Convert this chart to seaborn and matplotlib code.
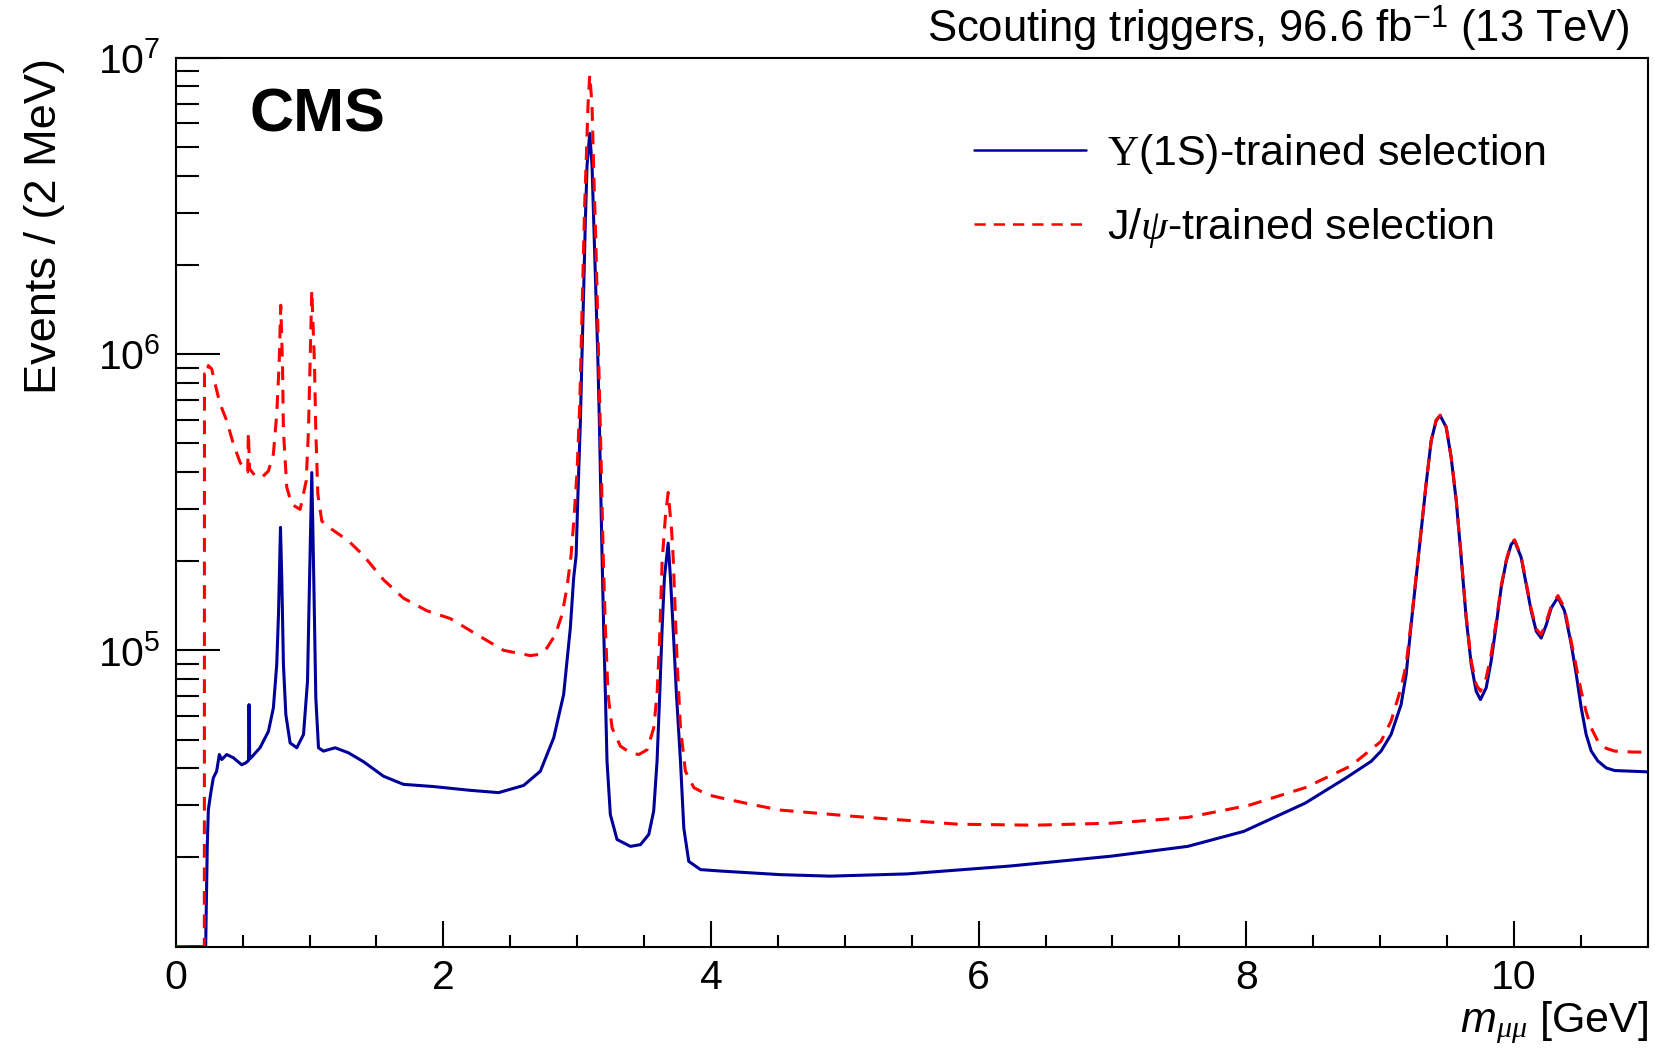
import matplotlib
matplotlib.use("Agg")
import matplotlib.pyplot as plt
import seaborn as sns
import pandas as pd
from matplotlib.lines import Line2D
from matplotlib.ticker import FixedLocator, LogLocator, LogFormatterSciNotation, MultipleLocator, NullFormatter

# ---------------- data ----------------
mass_upsilon_sel = [0.0, 0.224, 0.236, 0.244, 0.262, 0.281, 0.306, 0.326, 0.344, 0.381, 0.431,
                    0.493, 0.523, 0.544, 0.548, 0.553, 0.563, 0.630, 0.693, 0.730, 0.755, 0.768,
                    0.783, 0.793, 0.805, 0.823, 0.855, 0.905, 0.955, 0.985, 1.000, 1.017, 1.032,
                    1.047, 1.067, 1.104, 1.192, 1.291, 1.403, 1.553, 1.702, 1.927, 2.200, 2.413,
                    2.600, 2.725, 2.825, 2.899, 2.949, 2.974, 2.992, 3.007, 3.024, 3.036, 3.049,
                    3.061, 3.074, 3.094, 3.111, 3.124, 3.139, 3.154, 3.166, 3.176, 3.186, 3.198,
                    3.211, 3.223, 3.248, 3.298, 3.398, 3.473, 3.535, 3.572, 3.597, 3.617, 3.635,
                    3.652, 3.680, 3.697, 3.717, 3.742, 3.772, 3.797, 3.834, 3.922, 4.071, 4.520,
                    4.890, 5.463, 6.226, 6.990, 7.562, 7.982, 8.440, 8.745, 8.933, 9.007, 9.082,
                    9.157, 9.195, 9.232, 9.270, 9.307, 9.344, 9.382, 9.419, 9.449, 9.494, 9.531,
                    9.569, 9.606, 9.643, 9.681, 9.718, 9.750, 9.793, 9.830, 9.868, 9.905, 9.943,
                    9.980, 10.005, 10.054, 10.092, 10.129, 10.167, 10.204, 10.242, 10.279, 10.329,
                    10.378, 10.428, 10.466, 10.503, 10.540, 10.578, 10.628, 10.690, 10.753,
                    10.878, 11.0]
events_upsilon_sel = [1.0e4, 1.0e4, 2.2e4, 2.9e4, 3.3e4, 3.71e4, 3.91e4, 4.45e4, 4.28e4, 4.45e4, 4.34e4,
                      4.11e4, 4.17e4, 4.25e4, 6.56e4, 4.3e4, 4.34e4, 4.69e4, 5.33e4, 6.4e4, 8.96e4, 1.32e5,
                      2.6e5, 1.72e5, 8.96e4, 6.07e4, 4.87e4, 4.69e4, 5.2e4, 7.87e4, 1.72e5, 3.98e5, 1.72e5,
                      6.92e4, 4.69e4, 4.57e4, 4.69e4, 4.51e4, 4.21e4, 3.76e4, 3.53e4, 3.47e4, 3.37e4, 3.31e4,
                      3.5e4, 3.91e4, 5.07e4, 7.1e4, 1.19e5, 1.76e5, 2.08e5, 3.5e5, 5.89e5, 9.88e5, 1.66e6,
                      2.79e6, 4.34e6, 5.55e6, 4.34e6, 2.79e6, 1.66e6, 9.88e5, 5.89e5, 3.5e5, 2.08e5, 1.19e5,
                      7.1e4, 4.23e4, 2.79e4, 2.3e4, 2.18e4, 2.21e4, 2.39e4, 2.87e4, 4.23e4, 7.1e4, 1.19e5,
                      1.76e5, 2.3e5, 1.76e5, 1.19e5, 7.1e4, 4.23e4, 2.51e4, 1.94e4, 1.82e4, 1.8e4, 1.75e4,
                      1.73e4, 1.76e4, 1.87e4, 2.02e4, 2.18e4, 2.45e4, 3.05e4, 3.71e4, 4.22e4, 4.57e4, 5.2e4,
                      6.56e4, 8.3e4, 1.22e5, 1.76e5, 2.53e5, 3.64e5, 5.1e5, 5.96e5, 6.2e5, 5.66e5, 4.48e5,
                      3.2e5, 2.06e5, 1.29e5, 8.97e4, 7.28e4, 6.82e4, 7.48e4, 9.2e4, 1.22e5, 1.63e5, 2.0e5,
                      2.28e5, 2.34e5, 2.06e5, 1.67e5, 1.36e5, 1.16e5, 1.1e5, 1.22e5, 1.39e5, 1.51e5,
                      1.36e5, 1.05e5, 8.3e4, 6.4e4, 5.2e4, 4.57e4, 4.23e4, 4.01e4, 3.93e4,
                      3.91e4, 3.89e4]

mass_jpsi_sel = [0.0, 0.214, 0.215, 0.232, 0.244, 0.269, 0.294, 0.331, 0.381, 0.431, 0.481,
                 0.518, 0.538, 0.543, 0.552, 0.593, 0.643, 0.693, 0.730, 0.755, 0.773, 0.785,
                 0.798, 0.805, 0.830, 0.867, 0.930, 0.975, 0.992, 1.004, 1.017, 1.037, 1.047,
                 1.062, 1.092, 1.167, 1.291, 1.403, 1.553, 1.702, 1.877, 2.052, 2.251, 2.450,
                 2.650, 2.725, 2.775, 2.837, 2.887, 2.924, 2.954, 2.974, 2.999, 3.019, 3.031,
                 3.044, 3.056, 3.069, 3.081, 3.094, 3.111, 3.124, 3.139, 3.154, 3.169, 3.181,
                 3.195, 3.211, 3.231, 3.261, 3.323, 3.398, 3.460, 3.523, 3.572, 3.597, 3.615,
                 3.627, 3.635, 3.660, 3.680, 3.705, 3.717, 3.747, 3.772, 3.809, 3.872, 3.971,
                 4.071, 4.319, 4.520, 5.080, 5.844, 6.417, 6.990, 7.562, 8.020, 8.440, 8.780,
                 9.007, 9.082, 9.157, 9.195, 9.232, 9.270, 9.307, 9.344, 9.382, 9.419, 9.449,
                 9.494, 9.531, 9.569, 9.606, 9.643, 9.681, 9.718, 9.750, 9.793, 9.830, 9.868,
                 9.905, 9.943, 9.980, 10.005, 10.054, 10.092, 10.129, 10.167, 10.204, 10.242,
                 10.279, 10.329, 10.378, 10.428, 10.466, 10.503, 10.540, 10.578, 10.628,
                 10.690, 10.753, 10.878, 11.0]
events_jpsi_sel = [1.0e4, 1.0e4, 8.57e5, 8.45e5, 9.14e5, 8.9e5, 7.94e5, 6.8e5, 5.96e5, 4.97e5, 4.31e5,
                   4.03e5, 4.0e5, 5.44e5, 4.1e5, 3.88e5, 3.83e5, 4.03e5, 4.6e5, 6.28e5, 9.27e5, 1.46e6,
                   9.27e5, 5.51e5, 3.55e5, 3.11e5, 2.99e5, 3.73e5, 5.51e5, 9.27e5, 1.64e6, 9.27e5, 5.51e5,
                   3.37e5, 2.73e5, 2.56e5, 2.34e5, 2.09e5, 1.73e5, 1.5e5, 1.36e5, 1.28e5, 1.13e5, 1.0e5,
                   9.6e4, 9.7e4, 1.02e5, 1.13e5, 1.32e5, 1.63e5, 2.08e5, 2.7e5, 3.99e5, 6.7e5, 1.12e6,
                   1.89e6, 3.18e6, 4.69e6, 6.9e6, 8.75e6, 6.9e6, 4.12e6, 2.45e6, 1.28e6, 6.7e5, 3.99e5,
                   2.05e5, 1.19e5, 7.1e4, 5.47e4, 4.75e4, 4.51e4, 4.45e4, 4.62e4, 5.47e4, 7.1e4, 1.05e5,
                   1.55e5, 2.0e5, 2.85e5, 3.41e5, 2.57e5, 2.08e5, 9.2e4, 5.47e4, 3.91e4, 3.44e4, 3.26e4,
                   3.18e4, 3.01e4, 2.89e4, 2.75e4, 2.59e4, 2.57e4, 2.61e4, 2.73e4, 3.0e4, 3.44e4, 4.07e4,
                   4.93e4, 5.77e4, 7.48e4, 8.97e4, 1.24e5, 1.78e5, 2.55e5, 3.66e5, 5.1e5, 5.98e5, 6.22e5,
                   5.68e5, 4.5e5, 3.22e5, 2.08e5, 1.31e5, 9.2e4, 7.67e4, 7.28e4, 8.08e4, 9.7e4, 1.25e5,
                   1.65e5, 2.02e5, 2.3e5, 2.36e5, 2.08e5, 1.69e5, 1.38e5, 1.18e5, 1.13e5, 1.25e5,
                   1.41e5, 1.53e5, 1.39e5, 1.07e5, 8.8e4, 7.28e4, 6.2e4, 5.47e4, 4.93e4,
                   4.67e4, 4.57e4, 4.54e4, 4.53e4]

x_major_ticks = [0, 2, 4, 6, 8, 10]
y_major_ticks = [1e5, 1e6, 1e7]

label_upsilon = r"$\Upsilon$(1S)-trained selection"
label_jpsi = r"J/$\psi$-trained selection"

BLUE = "#000099"
RED = "#ff0000"

# ---------------- style ----------------
sns.set_theme(style="ticks")
plt.rcParams["font.family"] = ["Liberation Sans", "DejaVu Sans"]
plt.rcParams["mathtext.fontset"] = "custom"
plt.rcParams["mathtext.rm"] = "Liberation Serif"
plt.rcParams["mathtext.it"] = "Liberation Serif:italic"
plt.rcParams["mathtext.cal"] = "Liberation Sans:italic"
plt.rcParams["axes.linewidth"] = 1.5
plt.rcParams["text.color"] = "black"
plt.rcParams["axes.labelcolor"] = "black"
plt.rcParams["xtick.color"] = "black"
plt.rcParams["ytick.color"] = "black"
plt.rcParams["axes.edgecolor"] = "black"

fig = plt.figure(figsize=(16.56, 10.5), dpi=100)
fig.patch.set_facecolor("white")
ax = fig.add_axes([0.1061, 0.0984, 0.8889, 0.8467])
ax.set_facecolor("white")

df_u = pd.DataFrame({"mass": mass_upsilon_sel, "events": events_upsilon_sel})
df_j = pd.DataFrame({"mass": mass_jpsi_sel, "events": events_jpsi_sel})

sns.lineplot(data=df_u, x="mass", y="events", ax=ax, color=BLUE, linewidth=2.2,
             sort=False, estimator=None, legend=False)
sns.lineplot(data=df_j, x="mass", y="events", ax=ax, color=RED, linewidth=2.2,
             sort=False, estimator=None, legend=False)
ax.lines[-1].set_dashes((4.5, 3.2))

ax.set_yscale("log")
ax.set_xlim(0, 11)
ax.set_ylim(1e4, 1e7)

ax.yaxis.set_major_locator(FixedLocator(y_major_ticks))
ax.yaxis.set_major_formatter(LogFormatterSciNotation())
ax.yaxis.set_minor_locator(LogLocator(base=10, subs=[2, 3, 4, 5, 6, 7, 8, 9], numticks=20))
ax.yaxis.set_minor_formatter(NullFormatter())
ax.xaxis.set_major_locator(FixedLocator(x_major_ticks))
ax.xaxis.set_minor_locator(MultipleLocator(0.5))

ax.tick_params(axis="both", which="both", direction="in", top=False, right=False,
               labelsize=29.5, width=1.5, colors="black")
ax.tick_params(axis="y", which="major", length=31.5, pad=11)
ax.tick_params(axis="y", which="minor", length=16.5)
ax.tick_params(axis="x", which="major", length=18.5, pad=9)
ax.tick_params(axis="x", which="minor", length=9)

for s in ax.spines.values():
    s.set_visible(True)
    s.set_color("black")
    s.set_linewidth(1.5)

ax.set_ylabel("Events / (2 MeV)", fontsize=32.5, loc="top", color="black")
ax.yaxis.set_label_coords(-0.075, 1.0)
ax.set_xlabel(r"$\mathcal{m}_{\mu\mu}$ [GeV]", fontsize=31, loc="right", color="black")
ax.xaxis.set_label_coords(1.0, -0.060)

handles = [Line2D([], [], color=BLUE, linewidth=1.8),
           Line2D([], [], color=RED, linewidth=1.8, dashes=(4.5, 3.2))]
leg = ax.legend(handles, [label_upsilon, label_jpsi], loc="upper left",
                bbox_to_anchor=(974 / 1656, 0.874), bbox_transform=fig.transFigure,
                frameon=False, fontsize=31, handlelength=2.6, handletextpad=0.5,
                labelspacing=0.68, borderpad=0, borderaxespad=0)
for t in leg.get_texts():
    t.set_color("black")

fig.text(250 / 1656, 0.890, "CMS", fontsize=44, fontweight="bold", va="center", ha="left",
         color="black")
fig.text(1629 / 1656, 0.96, r"Scouting triggers, 96.6 fb$^{\mathdefault{-1}}$ (13 TeV)",
         fontsize=31.4, ha="right", va="baseline", color="black")

fig.savefig("out.png", dpi=100, facecolor="white")
